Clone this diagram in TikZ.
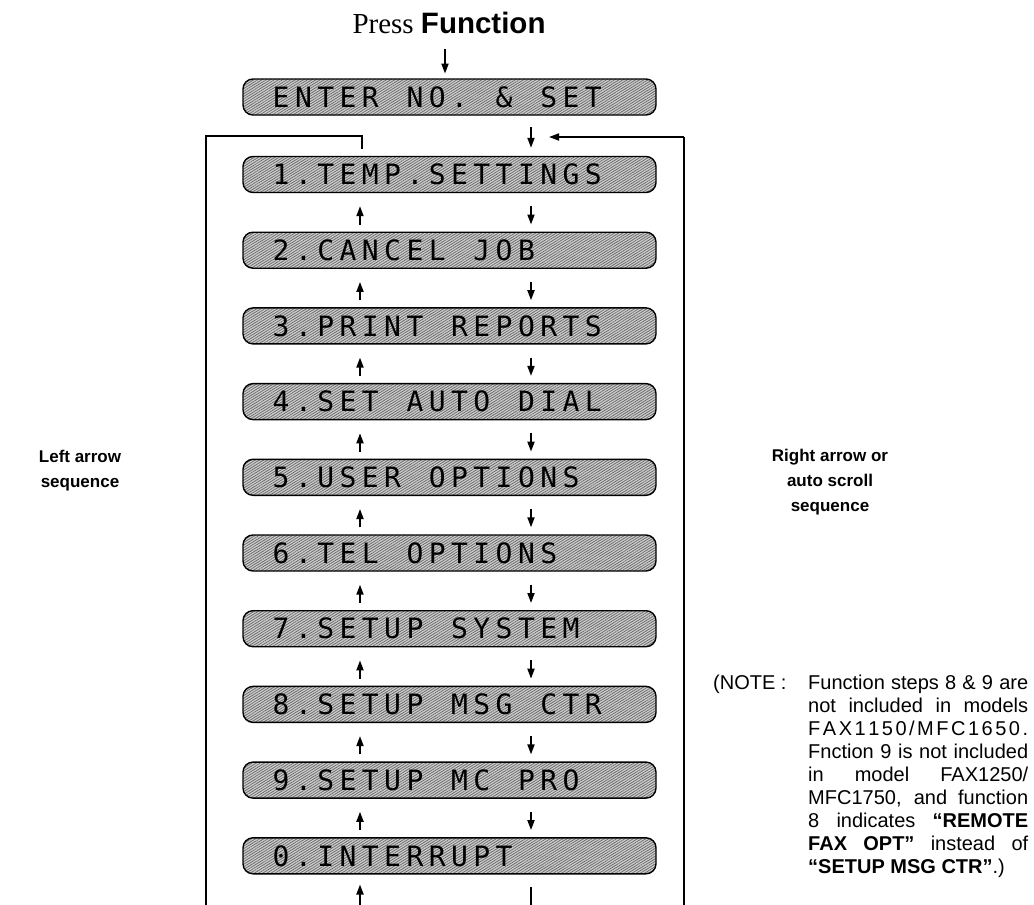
\documentclass[tikz,border=0pt]{standalone}
\usepackage{fontspec}
\usetikzlibrary{arrows.meta,patterns.meta,calc}
\newfontfamily\hv{Liberation Sans}
\newfontfamily\tm{Liberation Serif}
\newfontfamily\lcdfont{DejaVu Sans Mono}
\makeatletter
\newcommand\lcdtext[1]{\@tfor\lcdch:=#1\do{\makebox[22.3pt]{\lcdch}}}
\makeatother
\newcommand\lcdline[1]{\makebox[413pt][l]{\hspace*{27pt}\lcdtext{#1}}}
\tikzset{
  lcdbox/.style={draw, line width=1.4pt, rounded corners=10pt, inner sep=0pt,
    minimum height=36pt, minimum width=413pt,
    preaction={fill=gray!38},
    pattern={Lines[angle=32,distance=2.2pt,line width=0.8pt]}, pattern color=black!58,
    font=\lcdfont\fontsize{28}{28}\selectfont},
  arr/.style={line width=1.8pt, -{Triangle[length=10pt,width=7pt]}},
  loopline/.style={line width=1.8pt},
  sidelabel/.style={font=\hv\bfseries\fontsize{17}{25}\selectfont, align=center, inner sep=0pt},
  notefont/.style={font=\hv\fontsize{20}{23.1}\selectfont, inner sep=0pt}
}
\begin{document}
\begin{tikzpicture}[x=1pt,y=-1pt]
\useasboundingbox (0,0) rectangle (1034,905);
% title
\node[inner sep=0pt, anchor=base] (press) at (449,33) {\tm\fontsize{29}{29}\selectfont Press {\hv\bfseries\fontsize{29.5}{30}\selectfont Function}};
% boxes
\node[lcdbox] (be) at (449.5,97) {\lcdline{ENTER~NO.~\&~SET}};
\node[lcdbox] (b1) at (449.5,174.5) {\lcdline{1.TEMP.SETTINGS}};
\node[lcdbox] (b2) at (449.5,250.2) {\lcdline{2.CANCEL~JOB}};
\node[lcdbox] (b3) at (449.5,325.9) {\lcdline{3.PRINT~REPORTS}};
\node[lcdbox] (b4) at (449.5,401.6) {\lcdline{4.SET~AUTO~DIAL}};
\node[lcdbox] (b5) at (449.5,477.3) {\lcdline{5.USER~OPTIONS}};
\node[lcdbox] (b6) at (449.5,553.0) {\lcdline{6.TEL~OPTIONS}};
\node[lcdbox] (b7) at (449.5,628.7) {\lcdline{7.SETUP~SYSTEM}};
\node[lcdbox] (b8) at (449.5,704.4) {\lcdline{8.SETUP~MSG~CTR}};
\node[lcdbox] (b9) at (449.5,780.1) {\lcdline{9.SETUP~MC~PRO}};
\node[lcdbox] (b0) at (449.5,855.8) {\lcdline{0.INTERRUPT}};
% columns
\coordinate (dcol) at (531,0);
\coordinate (ucol) at (360,0);
\coordinate (pcol) at (445,0);
% press arrow
\draw[arr] ([yshift=-16pt]press.base -| pcol) -- ([yshift=5pt]be.north -| pcol);
% enter -> 1
\draw[arr] ([yshift=-12pt]be.south -| dcol) -- ([yshift=8pt]b1.north -| dcol);
% between boxes
\foreach \a/\b in {b1/b2,b2/b3,b3/b4,b4/b5,b5/b6,b6/b7,b7/b8,b8/b9,b9/b0}{
  \draw[arr] ([yshift=-13pt]\a.south -| dcol) -- ([yshift=7pt]\b.north -| dcol);
  \draw[arr] ([yshift=7pt]\b.north -| ucol) -- ([yshift=-13pt]\a.south -| ucol);
}
% right loop
\coordinate (rbot) at (684,905);
\coordinate (rtop) at (684,137);
\coordinate (rtip) at (549,137);
\draw[loopline] (rbot) -- (rtop);
\draw[arr] (rtop) -- (rtip);
% left loop
\coordinate (lstart) at (362,149);
\coordinate (lcorner) at (362,136);
\coordinate (lleft) at (206,136);
\coordinate (lbot) at (206,905);
\draw[loopline] (lstart) -- (lcorner) -- (lleft) -- (lbot);
% bottom continuation
\coordinate (ubot) at (360,905);
\coordinate (dbot) at (531,905);
\draw[arr] (ubot) -- ([yshift=-10pt]b0.south -| ucol);
\draw[loopline] ([yshift=-12pt]b0.south -| dcol) -- (dbot);
% side labels
\node[sidelabel] (lefttxt) at (80,471) {Left arrow\\sequence};
\node[sidelabel] (righttxt) at (830,482) {Right arrow or\\auto scroll\\sequence};
% note
\node[notefont, anchor=base west] (notelbl) at (713,689) {(NOTE :};
\node[notefont, anchor=base west] (notebody) at (808,689) {\parbox[t]{220pt}{\fontsize{20}{23.1}\selectfont
\makebox[220pt][s]{Function steps 8 \& 9 are}\\
\makebox[220pt][s]{not included in models}\\
\makebox[220pt][s]{F\hfill A\hfill X\hfill 1\hfill 1\hfill 5\hfill 0\hfill /\hfill M\hfill F\hfill C\hfill 1\hfill 6\hfill 5\hfill 0\hfill .}\\
\makebox[220pt][s]{Fnction 9 is not included}\\
\makebox[220pt][s]{in model FAX1250/}\\
\makebox[220pt][s]{MFC1750, and function}\\
\makebox[220pt][s]{8 indicates {\bfseries “REMOTE}}\\
\makebox[220pt][s]{{\bfseries FAX OPT”} instead of}\\
{\bfseries “SETUP MSG CTR”}.)}};
\end{tikzpicture}
\end{document}
